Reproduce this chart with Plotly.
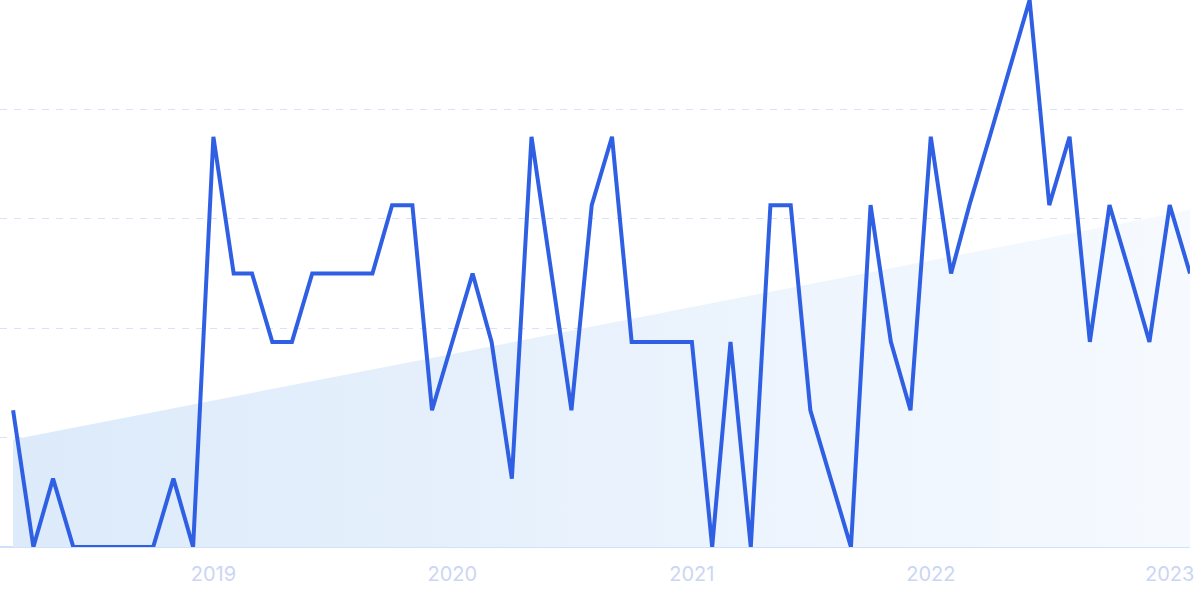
import numpy as np
import pandas as pd
import plotly.graph_objects as go

months = pd.date_range("2018-03-01", "2023-02-01", freq="MS")
values = [
    25, 0, 12.5, 0, 0, 0, 0, 0, 12.5, 0,
    75, 50, 50, 37.5, 37.5, 50, 50, 50, 50, 62.5, 62.5, 25,
    37.5, 50, 37.5, 12.5, 75, 50, 25, 62.5, 75, 37.5, 37.5, 37.5,
    37.5, 0, 37.5, 0, 62.5, 62.5, 25, 12.5, 0, 62.5, 37.5, 25,
    75, 50, 62.5, 75, 87.5, 100, 62.5, 75, 37.5, 62.5, 50, 37.5,
    62.5, 50,
]
tick_vals = ["2019-01-01", "2020-01-01", "2021-01-01", "2022-01-01", "2023-01-01"]
tick_text = ["2019", "2020", "2021", "2022", "2023"]

idx = np.arange(len(values))
slope, intercept = np.polyfit(idx, values, 1)
trend = [intercept + slope * i for i in idx]

fig = go.Figure()
fig.add_trace(go.Scatter(
    x=[months[0], months[-1]], y=[trend[0], trend[-1]],
    mode="lines", line=dict(width=0, color="rgba(0,0,0,0)"),
    fill="tozeroy",
    fillgradient=dict(type="horizontal",
                      colorscale=[[0, "rgba(220,234,250,1)"], [1, "rgba(246,250,255,1)"]]),
    hoverinfo="skip", showlegend=False,
))
fig.add_trace(go.Scatter(
    x=months, y=values, mode="lines",
    line=dict(color="#2f5fe3", width=4),
    showlegend=False,
))

fig.update_layout(
    width=1200, height=599,
    margin=dict(l=0, r=10, t=0, b=52),
    paper_bgcolor="white", plot_bgcolor="white",
    xaxis=dict(
        range=[pd.Timestamp("2018-02-09"), months[-1]],
        tickvals=tick_vals, ticktext=tick_text,
        showgrid=False, zeroline=False,
        showline=False, ticks="",
        ticklabelstandoff=13,
        tickfont=dict(family="Inter, Arial, sans-serif", size=20, color="#cbd6f4"),
    ),
    yaxis=dict(
        range=[0, 100], tickvals=[0, 20, 40, 60, 80, 100],
        showticklabels=False, showgrid=True,
        gridcolor="#d6e3fb", griddash="7px,7px", gridwidth=1,
        zeroline=True, zerolinecolor="#cfe1fb", zerolinewidth=2,
    ),
)
fig.write_html(
    "out.html",
    config={"displayModeBar": False},
    post_script="document.body.style.margin='0';document.body.style.overflow='hidden';",
)
